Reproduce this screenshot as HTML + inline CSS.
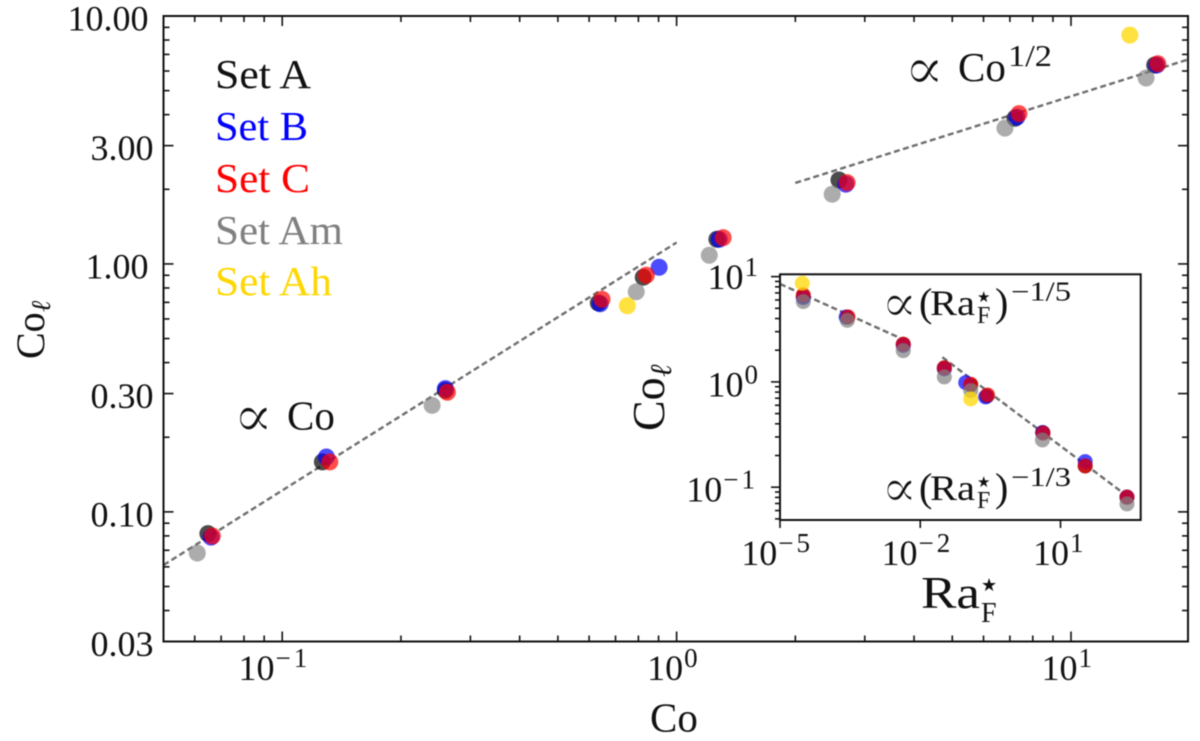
<!DOCTYPE html>
<html lang="en">
<head>
<meta charset="utf-8">
<title>Co_l versus Co</title>
<style>
html,body{margin:0;padding:0;background:#fff;}
svg{display:block;filter:blur(0.55px);}
text{font-family:"Liberation Serif","DejaVu Serif",serif;fill:#111;}
.star{font-family:"DejaVu Sans",sans-serif;}
.prop{stroke:#fff;stroke-width:1.3px;}
</style>
</head>
<body>
<svg id="chart" width="1200" height="741" viewBox="0 0 1200 741" xmlns="http://www.w3.org/2000/svg">
  <rect x="0" y="0" width="1200" height="741" fill="#fff"/>
  <g id="main-plot"></g>
  <g font-size="41">
    <text x="215" y="88" textLength="96" lengthAdjust="spacingAndGlyphs" style="fill:#111">Set A</text>
    <text x="215" y="140" textLength="93" lengthAdjust="spacingAndGlyphs" style="fill:#0000ff">Set B</text>
    <text x="215" y="192" textLength="95" lengthAdjust="spacingAndGlyphs" style="fill:#ff0000">Set C</text>
    <text x="215" y="244" textLength="128" lengthAdjust="spacingAndGlyphs" style="fill:#808080">Set Am</text>
    <text x="215" y="295" textLength="117" lengthAdjust="spacingAndGlyphs" style="fill:#ffd700">Set Ah</text>
  </g>
  <text x="650" y="731.5" font-size="41">Co</text>
  <g transform="translate(44,359) rotate(-90)">
    <text x="0" y="0" font-size="40">Co</text>
    <text x="47" y="6" font-size="27" font-style="italic">ℓ</text>
  </g>
  <g>
    <text class="prop" x="233" y="436.5" font-size="60">∝</text>
    <text x="287" y="429.5" font-size="41">Co</text>
  </g>
  <g>
    <text class="prop" x="904" y="89" font-size="60">∝</text>
    <text x="958" y="81" font-size="41">Co</text>
    <text x="1008" y="66" font-size="31" textLength="44" lengthAdjust="spacingAndGlyphs">1/2</text>
  </g>
  <g id="inset-plot"></g>
  <g>
    <text class="prop" x="881" y="321.7" font-size="54">∝</text>
    <text x="919" y="316" font-size="40">(</text>
    <text x="930" y="315" font-size="36" textLength="45" lengthAdjust="spacingAndGlyphs">Ra</text>
    <text class="star" x="977" y="302" font-size="15">★</text>
    <text x="977" y="323" font-size="24">F</text>
    <text x="995" y="316" font-size="40">)</text>
    <text x="1011" y="300.5" font-size="27" textLength="60" lengthAdjust="spacingAndGlyphs">−1/5</text>
  </g>
  <g>
    <text class="prop" x="881" y="506.7" font-size="54">∝</text>
    <text x="919" y="501" font-size="40">(</text>
    <text x="930" y="500" font-size="36" textLength="45" lengthAdjust="spacingAndGlyphs">Ra</text>
    <text class="star" x="977" y="487" font-size="15">★</text>
    <text x="977" y="508" font-size="24">F</text>
    <text x="995" y="501" font-size="40">)</text>
    <text x="1011" y="486" font-size="27" textLength="60" lengthAdjust="spacingAndGlyphs">−1/3</text>
  </g>
  <g>
    <text x="921" y="608" font-size="46" textLength="59" lengthAdjust="spacingAndGlyphs">Ra</text>
    <text class="star" x="981" y="591" font-size="18">★</text>
    <text x="981" y="622" font-size="28">F</text>
  </g>
  <g transform="translate(664,431) rotate(-90)">
    <text x="0" y="0" font-size="46">Co</text>
    <text x="54" y="7" font-size="30" font-style="italic">ℓ</text>
  </g>
</svg>
<script>
// ---- main panel data: Co (x) and Co_l (y) ----
const mainSetACo  = [0.0648, 0.1264, 0.2592, 0.633, 0.823, 1.265, 2.58, 7.21, 16.3];
const mainSetAColl = [0.0817, 0.159, 0.309, 0.696, 0.884, 1.258, 2.18, 3.87, 6.34];
const mainSetBCo  = [0.066, 0.1294, 0.2592, 0.640, 0.903, 1.282, 2.686, 7.29, 16.5];
const mainSetBColl = [0.0791, 0.1664, 0.3142, 0.691, 0.970, 1.258, 2.097, 3.91, 6.34];
const mainSetCCo  = [0.0665, 0.132, 0.2623, 0.647, 0.838, 1.312, 2.706, 7.38, 16.6];
const mainSetCColl = [0.0799, 0.159, 0.3036, 0.720, 0.900, 1.276, 2.127, 4.04, 6.42];
const mainSetAmCo = [0.0609, 0.2399, 0.790, 1.21, 2.48, 6.80, 15.5];
const mainSetAmColl = [0.0682, 0.269, 0.772, 1.084, 1.911, 3.53, 5.62];
const mainSetAhCo = [0.750, 14.1];
const mainSetAhColl = [0.678, 8.37];

// ---- inset panel data: Ra_F* (x) and Co_l (y) ----
const insetSetARa  = [3.15e-5, 2.75e-4, 4.33e-3, 0.0327, 0.12, 0.268, 4.16, 33.7, 264];
const insetSetAColl = [6.5, 4.11, 2.28, 1.36, 0.937, 0.736, 0.33, 0.159, 0.0804];
const insetSetBRa  = [3.15e-5, 2.6e-4, 4.33e-3, 0.0327, 0.0938, 0.25, 4.16, 33.7, 264];
const insetSetBColl = [6.3, 4.13, 2.22, 1.33, 0.985, 0.72, 0.33, 0.175, 0.0804];
const insetSetCRa  = [3.15e-5, 2.85e-4, 4.33e-3, 0.0327, 0.12, 0.275, 4.25, 33.7, 264];
const insetSetCColl = [6.7, 4.15, 2.28, 1.36, 0.951, 0.752, 0.326, 0.159, 0.0804];
const insetSetAmRa = [3.15e-5, 2.75e-4, 4.33e-3, 0.0327, 0.12, 4.1, 264];
const insetSetAmColl = [5.79, 3.84, 1.98, 1.115, 0.827, 0.281, 0.0694];
const insetSetAhRa = [3.0e-5, 0.12];
const insetSetAhColl = [8.65, 0.69];

// ---- fitted power laws: [x start, x end], prefactor ----
const lawLinearRange = [0.05, 1];
const lawLinearPrefactor = 1.22;
const lawLinearExponent = 1;
const lawSqrtRange = [2, 19.8];
const lawSqrtPrefactor = 1.5;
const lawSqrtExponent = 0.5;
const lawFifthRange = [1e-5, 3.34e-3];
const lawFifthPrefactor = 0.852;
const lawFifthExponent = -0.2;
const lawThirdRange = [0.0297, 300];
const lawThirdPrefactor = 0.531;
const lawThirdExponent = -1/3;

// ---- tick values and labels ----
const mainYTickValues = [0.03, 0.1, 0.3, 1, 3, 10];
const mainYTickLabels = ["0.03", "0.10", "0.30", "1.00", "3.00", "10.00"];
const mainYMinorValues = [0.04,0.05,0.06,0.07,0.08,0.09,0.2,0.4,0.5,0.6,0.7,0.8,0.9,2,4,5,6,7,8,9];
const mainXTickValues = [0.1, 1, 10];
const mainXTickExponents = ["−1", "0", "1"];
const mainXMinorValues = [0.06,0.07,0.08,0.09,0.2,0.3,0.4,0.5,0.6,0.7,0.8,0.9,2,3,4,5,6,7,8,9];
const insetYTickValues = [0.1, 1, 10];
const insetYTickExponents = ["−1", "0", "1"];
const insetYMinorValues = [0.05,0.06,0.07,0.08,0.09,0.2,0.3,0.4,0.5,0.6,0.7,0.8,0.9,2,3,4,5,6,7,8,9];
const insetXTickValues = [1e-5, 1e-2, 10];
const insetXTickExponents = ["−5", "−2", "1"];

const NS = "http://www.w3.org/2000/svg";
function make(tag, attrs, parent) {
  const node = document.createElementNS(NS, tag);
  for (const k in attrs) node.setAttribute(k, attrs[k]);
  parent.appendChild(node);
  return node;
}
function logScale(domain, range) {
  const a = Math.log10(domain[0]);
  const b = Math.log10(domain[1]);
  return function (v) { return range[0] + (Math.log10(v) - a) / (b - a) * (range[1] - range[0]); };
}
function powerText(parent, endX, baseY, exponent, size, supSize, supRise) {
  const t = make("text", {x: endX, y: baseY, "font-size": size, "text-anchor": "end"}, parent);
  t.appendChild(document.createTextNode("10"));
  const s = make("tspan", {dx: 1, dy: -supRise, "font-size": supSize, "letter-spacing": exponent.length > 1 ? 3 : 0}, t);
  s.textContent = exponent;
  return t;
}

const mainRoot = document.getElementById("main-plot");
const insetRoot = document.getElementById("inset-plot");

const mainLeft = 163.5, mainRight = 1188, mainTop = 16, mainBottom = 641.5;
const mx = logScale([0.05, 19.8], [mainLeft, mainRight]);
const my = logScale([0.03, 10], [mainBottom, mainTop]);
const insetLeft = 780, insetRight = 1140.7, insetTop = 274.3, insetBottom = 520;
const ix = logScale([1e-5, 519], [insetLeft, insetRight]);
const iy = logScale([0.0488, 10.52], [insetBottom, insetTop]);

function drawLaw(root, sx, sy, range, prefactor, exponent, name) {
  const el = make("line", {
    x1: sx(range[0]), y1: sy(prefactor * Math.pow(range[0], exponent)),
    x2: sx(range[1]), y2: sy(prefactor * Math.pow(range[1], exponent)),
    stroke: "#6e6e6e", "stroke-width": 2.4, "stroke-dasharray": "6 3.4"
  }, root);
  
  
}
function drawSeries(root, sx, sy, xs, ys, color, radius, opacity, name) {
  const g = make("g", {}, root);
  
  
  xs.forEach(function (x, i) {
    const el = make("circle", {cx: sx(x), cy: sy(ys[i]), r: radius, fill: color, "fill-opacity": opacity}, g);
    
    
  });
}
function tickLine(root, x1, y1, x2, y2, name) {
  const el = make("line", {x1: x1, y1: y1, x2: x2, y2: y2, stroke: "#111", "stroke-width": 1.6}, root);
  
  
}

// main ticks
mainYTickValues.forEach(function (v, i) {
  const y = my(v);
  tickLine(mainRoot, mainLeft, y, mainLeft + 10, y, 'y-major-tick');
  tickLine(mainRoot, mainRight, y, mainRight - 10, y, 'y-major-tick-right');
  const label = mainYTickLabels[i];
  const el = make("text", {x: label.charAt(0) === "1" ? 148.5 : 153.5, y: y + 14.5, "font-size": 36, "text-anchor": "end"}, mainRoot);
  el.textContent = label;
  
  
});
mainYMinorValues.forEach(function (v) {
  const y = my(v);
  tickLine(mainRoot, mainLeft, y, mainLeft + 6, y, 'y-minor-tick');
  tickLine(mainRoot, mainRight, y, mainRight - 6, y, 'y-minor-tick-right');
});
mainXTickValues.forEach(function (v, i) {
  const x = mx(v);
  tickLine(mainRoot, x, mainBottom, x, mainBottom - 10, 'x-major-tick');
  tickLine(mainRoot, x, mainTop, x, mainTop + 10, 'x-major-tick-top');
  const exp = mainXTickExponents[i];
  const el = powerText(mainRoot, x + (exp.length > 1 ? 28 : 21), 680, exp, 36, 27, 13);
  
  
});
mainXMinorValues.forEach(function (v) {
  const x = mx(v);
  tickLine(mainRoot, x, mainBottom, x, mainBottom - 6, 'x-minor-tick');
  tickLine(mainRoot, x, mainTop, x, mainTop + 6, 'x-minor-tick-top');
});

// main fitted lines
drawLaw(mainRoot, mx, my, lawLinearRange, lawLinearPrefactor, lawLinearExponent, 'law-linear-line');
drawLaw(mainRoot, mx, my, lawSqrtRange, lawSqrtPrefactor, lawSqrtExponent, 'law-sqrt-line');

// main series
drawSeries(mainRoot, mx, my, mainSetACo, mainSetAColl, "#000", 8.5, 0.7, 'series-set-a');
drawSeries(mainRoot, mx, my, mainSetBCo, mainSetBColl, "#0000ff", 8.5, 0.7, 'series-set-b');
drawSeries(mainRoot, mx, my, mainSetCCo, mainSetCColl, "#ff0000", 8.5, 0.7, 'series-set-c');
drawSeries(mainRoot, mx, my, mainSetAmCo, mainSetAmColl, "#808080", 8.5, 0.65, 'series-set-am');
drawSeries(mainRoot, mx, my, mainSetAhCo, mainSetAhColl, "#ffd700", 8.5, 0.75, 'series-set-ah');

const mainFrame = make("rect", {x: mainLeft, y: mainTop, width: mainRight - mainLeft, height: mainBottom - mainTop, fill: "none", stroke: "#111", "stroke-width": 2}, mainRoot);



// inset
const insetBg = make("rect", {x: insetLeft, y: insetTop, width: insetRight - insetLeft, height: insetBottom - insetTop, fill: "#fff"}, insetRoot);


insetYTickValues.forEach(function (v, i) {
  const y = iy(v);
  tickLine(insetRoot, insetLeft, y, insetLeft - 9, y, 'inset-y-major-tick');
  const exp = insetYTickExponents[i];
  const el = powerText(insetRoot, 758, y + (i === 2 ? 12.5 : 14.5), exp, 36, 27, 13);
  
  
});
insetYMinorValues.forEach(function (v) {
  const y = iy(v);
  tickLine(insetRoot, insetLeft, y, insetLeft - 5, y, 'inset-y-minor-tick');
});
insetXTickValues.forEach(function (v, i) {
  const x = ix(v);
  tickLine(insetRoot, x, insetBottom, x, insetBottom + 8, 'inset-x-major-tick');
  const exp = insetXTickExponents[i];
  const el = powerText(insetRoot, x + (exp.length > 1 ? 33 : 23), 565, exp, 36, 27, 13);
  
  
});
drawLaw(insetRoot, ix, iy, lawFifthRange, lawFifthPrefactor, lawFifthExponent, 'inset-law-fifth-line');
drawLaw(insetRoot, ix, iy, lawThirdRange, lawThirdPrefactor, lawThirdExponent, 'inset-law-third-line');
drawSeries(insetRoot, ix, iy, insetSetARa, insetSetAColl, "#000", 7.5, 0.7, 'inset-series-set-a');
drawSeries(insetRoot, ix, iy, insetSetBRa, insetSetBColl, "#0000ff", 7.5, 0.7, 'inset-series-set-b');
drawSeries(insetRoot, ix, iy, insetSetCRa, insetSetCColl, "#ff0000", 7.5, 0.7, 'inset-series-set-c');
drawSeries(insetRoot, ix, iy, insetSetAmRa, insetSetAmColl, "#808080", 7.5, 0.7, 'inset-series-set-am');
drawSeries(insetRoot, ix, iy, insetSetAhRa, insetSetAhColl, "#ffd700", 7.5, 0.75, 'inset-series-set-ah');
const insetFrame = make("rect", {x: insetLeft, y: insetTop, width: insetRight - insetLeft, height: insetBottom - insetTop, fill: "none", stroke: "#111", "stroke-width": 2}, insetRoot);


</script>
</body>
</html>
